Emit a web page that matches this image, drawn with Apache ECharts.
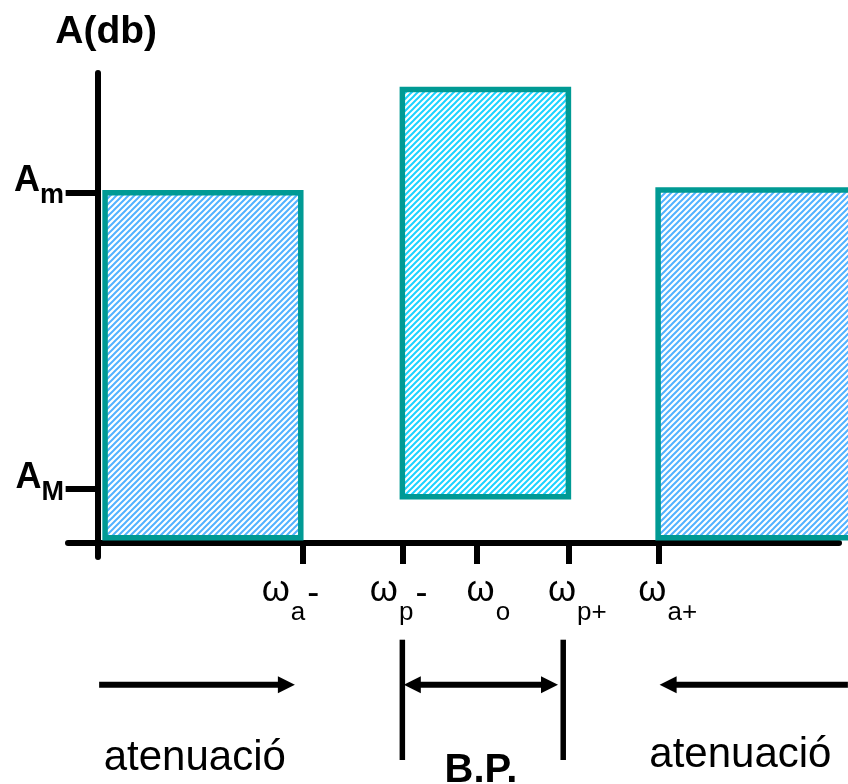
<!DOCTYPE html>
<html>
<head>
<meta charset="utf-8">
<title>Filtre passa banda</title>
<script src="https://cdn.jsdelivr.net/npm/echarts@6/dist/echarts.min.js"></script>
<style>
  html, body { margin: 0; padding: 0; background: #fff; }
  #chart { width: 848px; height: 784px; }
</style>
</head>
<body>
<div id="chart"></div>
<script>
// eix x: marques i etiquetes (w subindex)
const xTicks = [27.6, 41.1, 51.2, 63.5, 75.7];
const xLabelPos = [26.0, 40.6, 52.7, 64.7, 76.9];
const xLabelSub = ['a', 'p', 'o', 'p+', 'a+'];
const xLabelTail = ['-', '-', '', '', ''];
// eix y: Am i AM
const yTicks = [74.6, 11.5];
const yLabelSub = ['m', 'M'];

// bandes
const bandX0 = [1.0, 41.1, 75.6];
const bandX1 = [27.4, 63.5, 103];
const bandY0 = [1.1, 9.8, 1.1];
const bandY1 = [74.5, 96.5, 75.1];

// anotacions de sota
const arrowFrom = [0.2, 41.3, 101.2];
const arrowTo = [26.6, 62.1, 75.8];
const arrowBoth = [false, true, false];
const arrowY = -30.2;
const bpLineX = [41.1, 62.8];
const bpLineTop = -20.6;
const bpLineBottom = -46.2;
const noteText = ['atenuació', 'B.P.', 'atenuació'];
const noteX = [13.1, 51.7, 86.7];
const noteY = [-45.8, -48.5, -45.2];

const FONT = "'Liberation Sans', Arial, sans-serif";

function hatch(color) {
  const c = document.createElement('canvas');
  c.width = c.height = 6;
  const ctx = c.getContext('2d');
  ctx.fillStyle = '#fff';
  ctx.fillRect(0, 0, 6, 6);
  ctx.strokeStyle = color;
  ctx.lineWidth = 2;
  ctx.beginPath();
  ctx.moveTo(-1, 7); ctx.lineTo(7, -1);
  ctx.moveTo(-1, 1); ctx.lineTo(1, -1);
  ctx.moveTo(5, 7); ctx.lineTo(7, 5);
  ctx.stroke();
  return c;
}
const hatchBlue = hatch('#52b2ff');
const hatchCyan = hatch('#1cd2ff');

const chart = echarts.init(document.getElementById('chart'));

chart.setOption({
  animation: false,
  grid: { left: 68, right: 9, top: 73, bottom: 227, containLabel: false, outerBoundsMode: 'none' },
  xAxis: {
    type: 'value',
    min: -4,
    max: 100,
    splitLine: { show: false },
    axisLine: { onZero: true, lineStyle: { color: '#000', width: 6 } },
    axisTick: { customValues: xTicks, length: 21, lineStyle: { color: '#000', width: 6 } },
    axisLabel: {
      customValues: xLabelPos,
      margin: 16,
      formatter: (v) => {
        const i = xLabelPos.indexOf(v);
        let s = '{w|ω}{s|' + xLabelSub[i] + '}';
        if (xLabelTail[i]) s += '{t|' + xLabelTail[i] + '}';
        return s;
      },
      rich: {
        w: { fontFamily: FONT, fontSize: 36, lineHeight: 36, color: '#000', verticalAlign: 'top' },
        s: { fontFamily: FONT, fontSize: 26, lineHeight: 26, color: '#000', verticalAlign: 'top', padding: [27, 0, 0, 1] },
        t: { fontFamily: FONT, fontSize: 36, lineHeight: 36, color: '#000', verticalAlign: 'top', padding: [3, 0, 0, 2] }
      }
    }
  },
  yAxis: {
    type: 'value',
    min: -3,
    max: 100,
    name: 'A(db)',
    nameLocation: 'end',
    nameGap: 21,
    nameTextStyle: { fontFamily: FONT, fontSize: 39, fontWeight: 'bold', color: '#000', padding: [0, 0, 0, 17] },
    splitLine: { show: false },
    axisLine: { onZero: true, lineStyle: { color: '#000', width: 6 } },
    axisTick: { customValues: yTicks, length: 32, lineStyle: { color: '#000', width: 6 } },
    axisLabel: {
      customValues: yTicks,
      margin: 4,
      padding: [0, 0, 22, 0],
      formatter: (v) => '{a|A}{s|' + yLabelSub[yTicks.indexOf(v)] + '}',
      rich: {
        a: { fontFamily: FONT, fontSize: 36, lineHeight: 36, fontWeight: 'bold', color: '#000', verticalAlign: 'top' },
        s: { fontFamily: FONT, fontSize: 27, lineHeight: 27, fontWeight: 'bold', color: '#000', verticalAlign: 'top', padding: [19, 0, 0, 0] }
      }
    }
  },
  series: [
    {
      type: 'custom',
      name: 'bandes',
      clip: false,
      z: 1,
      data: bandX0.map((x, i) => [x, bandY0[i], bandX1[i], bandY1[i]]),
      renderItem: (params, api) => {
        const p0 = api.coord([api.value(0), api.value(3)]);
        const p1 = api.coord([api.value(2), api.value(1)]);
        const pass = params.dataIndex === 1;
        return {
          type: 'rect',
          shape: { x: p0[0], y: p0[1], width: p1[0] - p0[0], height: p1[1] - p0[1] },
          style: {
            fill: { image: pass ? hatchCyan : hatchBlue, repeat: 'repeat' },
            stroke: '#009a94',
            lineWidth: 5.5
          }
        };
      }
    },
    {
      type: 'custom',
      name: 'fletxes',
      clip: false,
      data: arrowFrom.map((x, i) => [x, arrowTo[i], arrowY]),
      renderItem: (params, api) => {
        const a = api.coord([api.value(0), api.value(2)]);
        const b = api.coord([api.value(1), api.value(2)]);
        const dir = b[0] > a[0] ? 1 : -1;
        const head = (tip, d) => ({
          type: 'polygon',
          shape: { points: [[tip[0], tip[1]], [tip[0] - d * 17, tip[1] - 8.5], [tip[0] - d * 17, tip[1] + 8.5]] },
          style: { fill: '#000' }
        });
        const children = [
          { type: 'line', shape: { x1: a[0], y1: a[1], x2: b[0] - dir * 10, y2: b[1] }, style: { stroke: '#000', lineWidth: 6 } },
          head(b, dir)
        ];
        if (arrowBoth[params.dataIndex]) {
          children[0].shape.x1 = a[0] + dir * 10;
          children.push(head(a, -dir));
        }
        return { type: 'group', children };
      }
    },
    {
      type: 'custom',
      name: 'limits',
      clip: false,
      data: bpLineX.map((x) => [x, bpLineTop, bpLineBottom]),
      renderItem: (params, api) => {
        const a = api.coord([api.value(0), api.value(1)]);
        const b = api.coord([api.value(0), api.value(2)]);
        return {
          type: 'line',
          shape: { x1: a[0], y1: a[1], x2: b[0], y2: b[1] },
          style: { stroke: '#000', lineWidth: 5.5 }
        };
      }
    },
    {
      type: 'custom',
      name: 'textos',
      clip: false,
      data: noteX.map((x, i) => [x, noteY[i]]),
      renderItem: (params, api) => {
        const p = api.coord([api.value(0), api.value(1)]);
        const bold = params.dataIndex === 1;
        return {
          type: 'text',
          x: p[0],
          y: p[1],
          style: {
            text: noteText[params.dataIndex],
            fill: '#000',
            font: (bold ? 'bold 40px ' : '42px ') + FONT,
            textAlign: 'center',
            textVerticalAlign: 'middle'
          }
        };
      }
    }
  ]
});
</script>
</body>
</html>
